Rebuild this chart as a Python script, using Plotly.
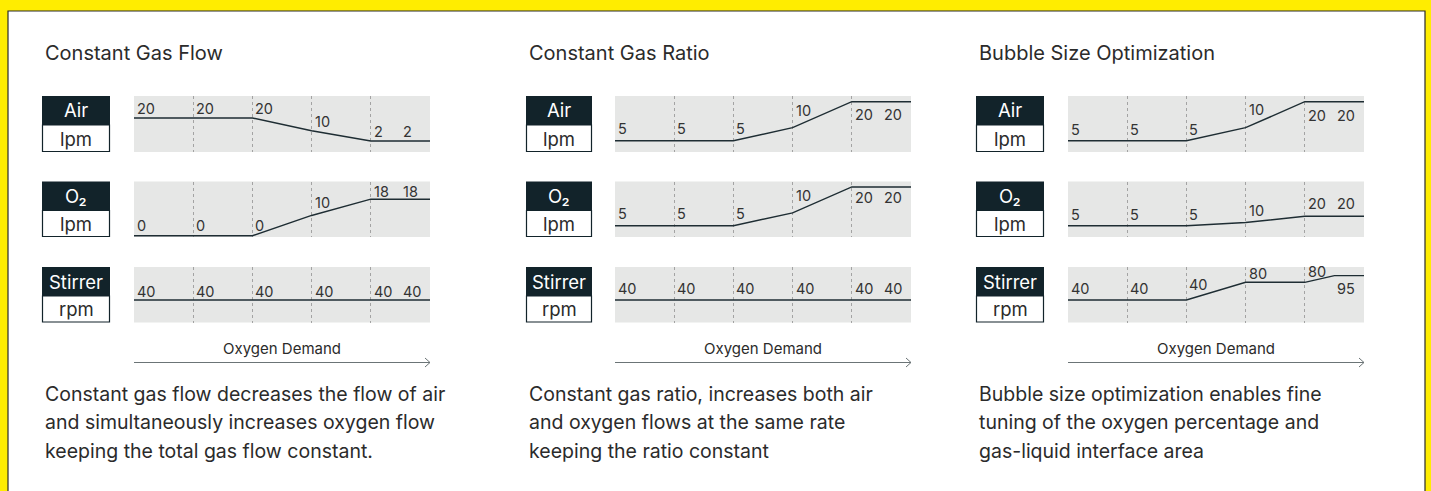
import plotly.graph_objects as go

W, H = 1431, 491

# ---------------- data ----------------
panel_titles = ["Constant Gas Flow", "Constant Gas Ratio", "Bubble Size Optimization"]
row_names = ["Air", "O₂", "Stirrer"]
row_units = ["lpm", "lpm", "rpm"]
stages = [0, 1, 2, 3, 4, 4.5]          # positions along the oxygen-demand axis
stage_end = 5
stage_grid = [1, 2, 3, 4]
x_label = "Oxygen Demand"

flow_air = [20, 20, 20, 10, 2, 2]
flow_o2 = [0, 0, 0, 10, 18, 18]
flow_stirrer = [40, 40, 40, 40, 40, 40]

ratio_air = [5, 5, 5, 10, 20, 20]
ratio_o2 = [5, 5, 5, 10, 20, 20]
ratio_stirrer = [40, 40, 40, 40, 40, 40]

bubble_air = [5, 5, 5, 10, 20, 20]
bubble_o2 = [5, 5, 5, 10, 20, 20]
bubble_stirrer = [40, 40, 40, 80, 80, 95]

descriptions = [
    ["Constant gas flow decreases the flow of air",
     "and simultaneously increases oxygen flow",
     "keeping the total gas flow constant."],
    ["Constant gas ratio, increases both air",
     "and oxygen flows at the same rate",
     "keeping the ratio constant"],
    ["Bubble size optimization enables fine",
     "tuning of the oxygen percentage and",
     "gas-liquid interface area"],
]

series = [
    [flow_air, flow_o2, flow_stirrer],
    [ratio_air, ratio_o2, ratio_stirrer],
    [bubble_air, bubble_o2, bubble_stirrer],
]

# ---------------- layout / style (pixels) ----------------
FONT = "Inter"
DARK = "#12232a"
TEXT = "#2b2b2b"
GRAY_BG = "#e6e7e6"
YELLOW = "#ffed00"
ARROW = "#6b7476"

panel_left = [43, 527, 977]            # title / text left edges
box_x = [(42, 110), (526, 592), (976, 1044)]
plot_x = [(134, 430), (615, 911), (1068, 1364)]
row_y = [(96, 152), (181.5, 237), (267, 322.5)]
box_split = [125, 210.5, 296]

y_ranges = [
    [[-6.6, 37.2], [-0.6, 26.7], [-10.8, 114.6]],
    [[0.65, 22.2], [0.65, 22.1], [-10.8, 114.6]],
    [[0.65, 22.2], [-12.9, 75.2], [-10.8, 114.6]],
]
label_dy = [
    [[9, 9, 9, 9, 10, 10], [10.5, 10.5, 10.5, 13, 7.5, 7.5], [8.5] * 6],
    [[12.6, 12.6, 12.6, 17.7, -12.6, -12.6], [12.4, 12.4, 12.4, 17.7, -10.6, -10.6], [11.3] * 6],
    [[11.3, 11.3, 11.3, 18.7, -13.3, -13.3], [11.4, 11.4, 11.4, 12, 13, 13],
     [11.7, 11.7, 15.7, 9.3, 10.6, -13]],
]

SZ_TITLE, SZ_DESC, SZ_LABEL, SZ_AXIS, SZ_BOX = 20, 19.5, 14.5, 15, 18.5


def px(x):
    return x / W


def py(y):
    return 1 - y / H


fig = go.Figure()
layout = dict(
    width=W, height=H,
    margin=dict(l=0, r=0, t=0, b=0),
    paper_bgcolor="white",
    plot_bgcolor=GRAY_BG,
    showlegend=False,
    font=dict(family=FONT, color=TEXT),
)
shapes = []
annotations = []

# yellow frame + dark border of the white card
shapes += [
    dict(type="rect", xref="paper", yref="paper", x0=-0.01, x1=px(8), y0=-0.1, y1=1.1,
         fillcolor=YELLOW, line=dict(width=0), layer="below"),
    dict(type="rect", xref="paper", yref="paper", x0=px(1425), x1=1.01, y0=-0.1, y1=1.1,
         fillcolor=YELLOW, line=dict(width=0), layer="below"),
    dict(type="rect", xref="paper", yref="paper", x0=-0.01, x1=1.01, y0=py(11), y1=1.1,
         fillcolor=YELLOW, line=dict(width=0), layer="below"),
    dict(type="rect", xref="paper", yref="paper", x0=px(8), x1=px(1425), y0=py(520), y1=py(11),
         fillcolor="rgba(0,0,0,0)", line=dict(width=1.2, color="#2a2a2a"), layer="above"),
]

for p in range(3):
    # panel title
    annotations.append(dict(
        xref="paper", yref="paper", x=px(panel_left[p]), y=py(53),
        xanchor="left", yanchor="middle", showarrow=False,
        text=panel_titles[p], font=dict(size=SZ_TITLE, color=TEXT, family=FONT)))
    for r in range(3):
        k = p * 3 + r + 1
        xa = "xaxis" if k == 1 else f"xaxis{k}"
        ya = "yaxis" if k == 1 else f"yaxis{k}"
        xr = "x" if k == 1 else f"x{k}"
        yr = "y" if k == 1 else f"y{k}"
        x0, x1 = plot_x[p]
        y0, y1 = row_y[r]
        layout[xa] = dict(domain=[px(x0), px(x1)], range=[0, stage_end], anchor=yr,
                          tickvals=stage_grid, showticklabels=False, ticks="",
                          showgrid=True, gridcolor="#a3a3a3", gridwidth=1, griddash="3px,3px",
                          zeroline=False, showline=False, fixedrange=True)
        layout[ya] = dict(domain=[py(y1), py(y0)], range=y_ranges[p][r], anchor=xr,
                          showgrid=False, showticklabels=False, ticks="", zeroline=False,
                          showline=False, fixedrange=True)
        vals = series[p][r]
        fig.add_trace(go.Scatter(
            x=list(stages) + [stage_end], y=list(vals) + [vals[-1]],
            xaxis=xr, yaxis=yr, mode="lines", cliponaxis=False,
            line=dict(color="#1e2d33", width=1.4), hoverinfo="skip"))
        for i, (s, v) in enumerate(zip(stages, vals)):
            annotations.append(dict(
                xref=xr, yref=yr, x=s, y=v, xanchor="left", yanchor="middle",
                xshift=1.0, yshift=label_dy[p][r][i], showarrow=False,
                text=str(v), font=dict(size=SZ_LABEL, color="#333333", family=FONT)))
        # label box
        bx0, bx1 = box_x[p]
        shapes.append(dict(type="rect", xref="paper", yref="paper",
                           x0=px(bx0), x1=px(bx1), y0=py(box_split[r]), y1=py(y0),
                           fillcolor=DARK, line=dict(width=0)))
        shapes.append(dict(type="rect", xref="paper", yref="paper",
                           x0=px(bx0 + 0.5), x1=px(bx1 - 0.5), y0=py(y1 - 0.5), y1=py(box_split[r]),
                           fillcolor="white", line=dict(width=1.2, color=DARK)))
        annotations.append(dict(
            xref="paper", yref="paper", x=px((bx0 + bx1) / 2), y=py((y0 + box_split[r]) / 2),
            xanchor="center", yanchor="middle", showarrow=False,
            text=row_names[r], font=dict(size=SZ_BOX, color="white", family=FONT)))
        annotations.append(dict(
            xref="paper", yref="paper", x=px((bx0 + bx1) / 2), y=py((box_split[r] + y1) / 2),
            xanchor="center", yanchor="middle", showarrow=False,
            text=row_units[r], font=dict(size=SZ_BOX, color=TEXT, family=FONT)))

    # oxygen demand arrow (line + open chevron head)
    x0, x1 = plot_x[p]
    annotations.append(dict(
        xref="paper", yref="paper", x=px((x0 + x1) / 2), y=py(348.5),
        xanchor="center", yanchor="middle", showarrow=False,
        text=x_label, font=dict(size=SZ_AXIS, color=TEXT, family=FONT)))
    ay = 362.5
    shapes.append(dict(type="line", xref="paper", yref="paper",
                       x0=px(x0), x1=px(x1), y0=py(ay), y1=py(ay),
                       line=dict(color=ARROW, width=1)))
    shapes.append(dict(type="path", xref="paper", yref="paper",
                       path=f"M {px(x1 - 5)},{py(ay - 4.5)} L {px(x1)},{py(ay)} L {px(x1 - 5)},{py(ay + 4.5)}",
                       line=dict(color=ARROW, width=1)))
    # description
    for j, line in enumerate(descriptions[p]):
        annotations.append(dict(
            xref="paper", yref="paper", x=px(panel_left[p]), y=py(393.5 + 28.5 * j),
            xanchor="left", yanchor="middle", showarrow=False,
            text=line, font=dict(size=SZ_DESC, color=TEXT, family=FONT)))

layout["shapes"] = shapes
layout["annotations"] = annotations
fig.update_layout(**layout)
fig.write_html("out.html", config={"displayModeBar": False},
               post_script="document.body.style.margin='0';document.body.style.overflow='hidden';")
